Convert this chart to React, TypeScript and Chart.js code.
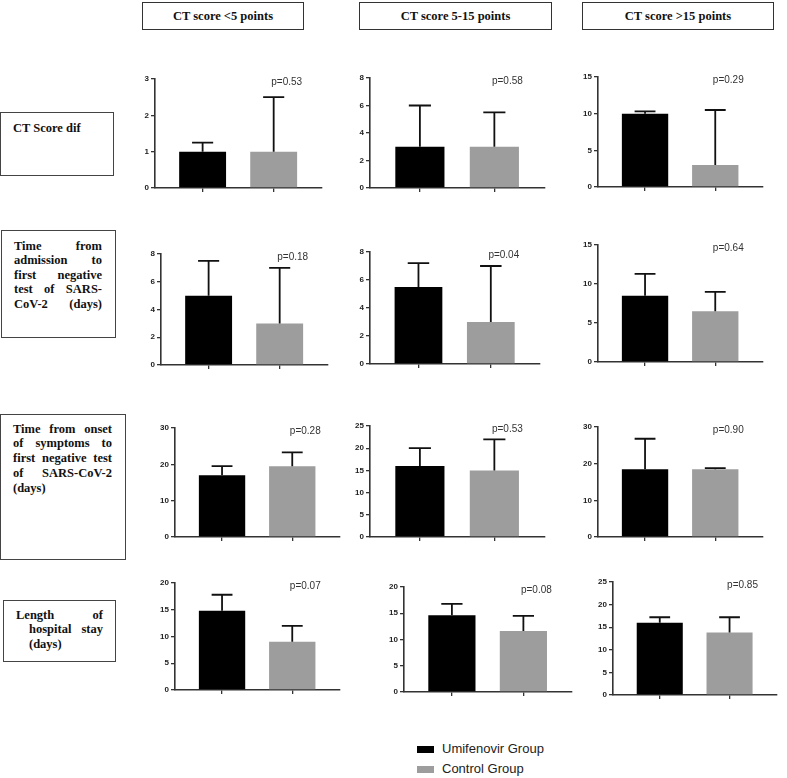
import React, { useEffect, useRef } from 'react';
import { Chart, registerables } from 'chart.js';

Chart.register(...registerables);

// ---------- data ----------
const GROUPS = ['Umifenovir Group', 'Control Group'];
const COLUMN_TITLES = ['CT score <5 points', 'CT score 5-15 points', 'CT score >15 points'];

// panels in row-major order: rows = outcomes, columns = CT score groups
const UMIFENOVIR_MEAN = [1, 3, 10, 5, 5.5, 8.5, 17, 16, 18.5, 14.8, 14.6, 16];
const UMIFENOVIR_UPPER = [1.25, 6, 10.3, 7.5, 7.2, 11.3, 19.5, 20, 26.8, 17.8, 16.8, 17.2];
const CONTROL_MEAN = [1, 3, 3, 3, 3, 6.5, 19.5, 15, 18.5, 9, 11.6, 13.8];
const CONTROL_UPPER = [2.5, 5.5, 10.5, 7, 7, 9, 23.3, 22, 18.8, 12, 14.5, 17.2];
const P_VALUES = ['p=0.53', 'p=0.58', 'p=0.29', 'p=0.18', 'p=0.04', 'p=0.64', 'p=0.28', 'p=0.53', 'p=0.90', 'p=0.07', 'p=0.08', 'p=0.85'];
const Y_MAX = [3, 8, 15, 8, 8, 15, 30, 25, 30, 20, 20, 25];
const Y_STEP = [1, 2, 5, 2, 2, 5, 10, 5, 10, 5, 5, 5];

// ---------- layout ----------
// [axis left x, y of top tick, y of zero, axis right x]
const PANEL_AXES = [
  [155, 79, 188, 322], [370, 78, 188, 545], [598, 77, 187, 763],
  [161, 254, 365, 328], [370, 252, 364, 540], [598, 245, 362, 763],
  [175, 428, 537, 340], [370, 426, 537, 545], [598, 427, 537, 763],
  [175, 583, 690, 340], [404, 587, 692, 572], [613, 582, 695, 777],
];
const AXIS_W = 30, PAD_TOP = 10, PAD_RIGHT = 6, AXIS_H = 12;

const HEADER_BOXES = [[142, 2, 162, 28], [359, 2, 193, 28], [582, 2, 192, 28]];

type Line = [string, boolean, number];
const ROW_LINES: Line[][] = [
  [['CT Score dif', false, 0]],
  [['Time from', true, 0], ['admission to', true, 0], ['first negative', true, 0], ['test of SARS-', true, 0], ['CoV-2 (days)', true, 0]],
  [['Time from onset', true, 0], ['of symptoms to', true, 0], ['first negative test', true, 0], ['of SARS-CoV-2', true, 0], ['(days)', false, 0]],
  [['Length of', true, 0], ['hospital stay', true, 13], ['(days)', false, 13]],
];
// [box left, top, width, height, text left, text width, first line centre, line height]
const ROW_BOXES = [
  [0, 112, 114, 64, 13, 80, 128, 14.6],
  [1, 230, 115, 108, 14, 88, 246, 14.5],
  [0, 414, 126, 146, 13, 99, 429, 14.8],
  [3, 600, 113, 62, 16, 87, 615, 14.7],
];

const BAR_COLORS = ['#000000', '#9d9d9d'];
const SERIF = '"Liberation Serif", "Times New Roman", serif';
const SANS = '"Liberation Sans", Arial, sans-serif';

function Panel({ idx }: { idx: number }) {
  const ref = useRef<HTMLCanvasElement>(null);
  const [L, T, Z, R] = PANEL_AXES[idx];
  const cl = L - AXIS_W;
  const ct = T - PAD_TOP;
  const cw = R - cl + PAD_RIGHT;
  const ch = Z - ct + AXIS_H;

  useEffect(() => {
    if (!ref.current) return;
    const upper = [UMIFENOVIR_UPPER[idx], CONTROL_UPPER[idx]];
    const errorBars = {
      id: 'errorBars',
      afterDatasetsDraw(chart: any) {
        const { ctx, scales, chartArea } = chart;
        const y = scales.y;
        const meta = chart.getDatasetMeta(0);
        ctx.save();
        ctx.strokeStyle = '#111';
        ctx.lineWidth = 1.8;
        meta.data.forEach((bar: any, i: number) => {
          const yTop = y.getPixelForValue(upper[i]);
          const cap = bar.width * 0.45;
          ctx.beginPath();
          ctx.moveTo(bar.x, bar.y);
          ctx.lineTo(bar.x, yTop);
          ctx.moveTo(bar.x - cap / 2, yTop);
          ctx.lineTo(bar.x + cap / 2, yTop);
          ctx.stroke();
        });
        const g = meta.data[1];
        ctx.fillStyle = '#333';
        ctx.font = `10px ${SANS}`;
        ctx.textAlign = 'center';
        ctx.textBaseline = 'middle';
        ctx.fillText(P_VALUES[idx], g.x + 13, chartArea.top + 3);
        ctx.restore();
      },
    };
    const chart = new Chart(ref.current, {
      type: 'bar',
      data: {
        datasets: [
          {
            label: 'mean',
            data: [
              { x: 0, y: UMIFENOVIR_MEAN[idx] },
              { x: 1, y: CONTROL_MEAN[idx] },
            ],
            backgroundColor: BAR_COLORS,
            borderWidth: 0,
            categoryPercentage: 1,
            barPercentage: 0.66,
          },
        ],
      },
      options: {
        animation: false,
        responsive: false,
        events: [],
        layout: { padding: { top: PAD_TOP, right: PAD_RIGHT, left: 0, bottom: 0 } },
        plugins: { legend: { display: false }, tooltip: { enabled: false } },
        scales: {
          x: {
            type: 'linear',
            min: -0.67,
            max: 1.68,
            offset: false,
            afterBuildTicks: (s: any) => {
              s.ticks = [{ value: 0 }, { value: 1 }];
            },
            afterFit: (s: any) => {
              s.height = AXIS_H;
            },
            ticks: { display: false },
            grid: { offset: false, drawOnChartArea: false, drawTicks: true, tickLength: 4, color: '#333', lineWidth: 1.3 },
            border: { color: '#333', width: 1.6 },
          },
          y: {
            min: 0,
            max: Y_MAX[idx],
            afterFit: (s: any) => {
              s.width = AXIS_W;
            },
            ticks: {
              stepSize: Y_STEP[idx],
              color: '#222',
              padding: 2,
              font: { size: 8, weight: 'bold', family: SANS },
            },
            grid: { drawOnChartArea: false, drawTicks: true, tickLength: 4, color: '#333', lineWidth: 1.3 },
            border: { color: '#333', width: 1.6 },
          },
        },
      } as any,
      plugins: [errorBars],
    });
    return () => chart.destroy();
  }, [idx]);

  return (
    <canvas
      ref={ref}
      width={cw}
      height={ch}
      style={{ position: 'absolute', left: cl, top: ct, width: cw, height: ch }}
    />
  );
}

export default function App() {
  return (
    <div style={{ position: 'absolute', left: 0, top: 0, width: 787, height: 778, background: '#fff', overflow: 'hidden' }}>
      {HEADER_BOXES.map(([x, y, w, h], i) => (
        <div
          key={'h' + i}
          style={{
            position: 'absolute', left: x, top: y, width: w, height: h, boxSizing: 'border-box',
            border: '1.5px solid #333', display: 'flex', alignItems: 'center', justifyContent: 'center',
            fontFamily: SERIF, fontWeight: 'bold', fontSize: 12.5, color: '#111',
          }}
        >
          {COLUMN_TITLES[i]}
        </div>
      ))}
      {ROW_BOXES.map(([x, y, w, h, tl, tw, c0, lh], r) => (
        <React.Fragment key={'r' + r}>
          <div
            style={{
              position: 'absolute', left: x, top: y, width: w, height: h, boxSizing: 'border-box',
              border: '1.5px solid #444',
            }}
          />
          {ROW_LINES[r].map(([text, just, indent], k) => (
            <div
              key={k}
              style={{
                position: 'absolute', left: tl + indent, width: tw - indent, top: c0 + k * lh - lh / 2,
                height: lh, lineHeight: lh + 'px', fontFamily: SERIF, fontWeight: 'bold', fontSize: 12.5,
                color: '#111', textAlign: just ? 'justify' : 'left',
                textAlignLast: just ? 'justify' : 'left',
              } as any}
            >
              {text}
            </div>
          ))}
        </React.Fragment>
      ))}
      {PANEL_AXES.map((_, i) => (
        <Panel key={i} idx={i} />
      ))}
      {GROUPS.map((g, i) => (
        <React.Fragment key={'g' + i}>
          <div style={{ position: 'absolute', left: 417, top: 746 + i * 20, width: 17, height: 7, background: BAR_COLORS[i] }} />
          <div
            style={{
              position: 'absolute', left: 442, top: 741 + i * 20, height: 16, lineHeight: '16px',
              fontFamily: SANS, fontSize: 13, color: '#222', whiteSpace: 'nowrap',
            }}
          >
            {g}
          </div>
        </React.Fragment>
      ))}
    </div>
  );
}
